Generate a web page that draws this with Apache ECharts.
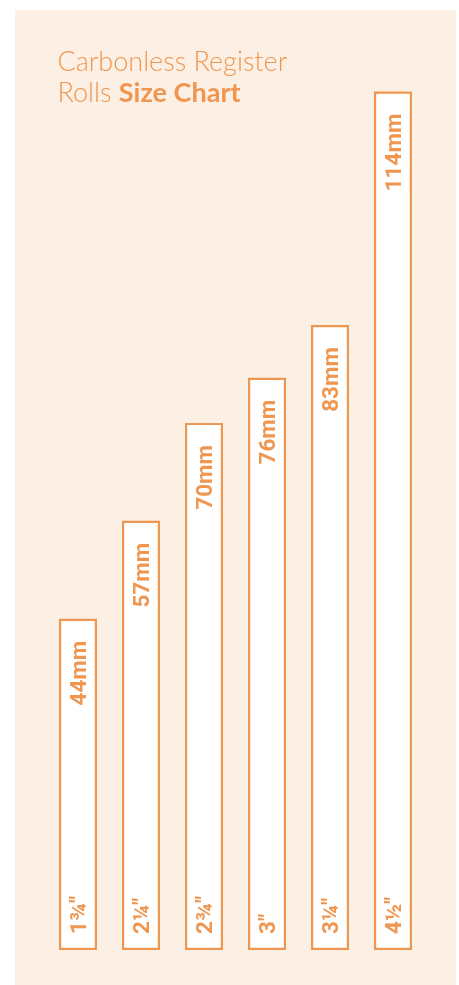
<!DOCTYPE html>
<html>
<head>
<meta charset="utf-8">
<script src="https://cdn.jsdelivr.net/npm/echarts@6/dist/echarts.min.js"></script>
<style>
html,body{margin:0;padding:0;background:#fff;}
#c{width:459px;height:985px;}
</style>
</head>
<body>
<div id="c"></div>
<script>
const sizes = ['1\u00BE\u2033', '2\u00BC\u2033', '2\u00BE\u2033', '3\u2033', '3\u00BC\u2033', '4\u00BD\u2033'];
const widthsMM = [44, 57, 70, 76, 83, 114];
const titleLine1 = 'Carbonless Register';
const titleLine2a = 'Rolls ';
const titleLine2b = 'Size Chart';

const ORANGE = '#EF9650';
const LABEL_FONT = 'Roboto, "Noto Sans", sans-serif';
const chart = echarts.init(document.getElementById('c'), null, {renderer: 'canvas'});
chart.setOption({
  backgroundColor: '#ffffff',
  animation: false,
  graphic: [{
    type: 'rect', z: -10, silent: true,
    shape: {x: 15, y: 10, width: 441, height: 975},
    style: {fill: '#FCEFE4'}
  }],
  title: {
    left: 57.5, top: 47, padding: 0,
    text: '{l|' + titleLine1 + '}\n{l|' + titleLine2a + '}{b|' + titleLine2b + '}',
    textStyle: {
      rich: {
        l: {fontFamily: 'Lato', fontWeight: 300, fontSize: 27, color: ORANGE, lineHeight: 31},
        b: {fontFamily: 'Lato', fontWeight: 700, fontSize: 27, color: ORANGE, lineHeight: 31}
      }
    }
  },
  grid: {left: 46.5, right: 34.5, top: 46.4, bottom: 35},
  xAxis: {
    type: 'category', data: sizes,
    axisLine: {show: false}, axisTick: {show: false}, axisLabel: {show: false}
  },
  yAxis: {
    type: 'value', min: 0, max: 120,
    show: false, splitLine: {show: false}
  },
  series: [{
    type: 'bar', data: widthsMM, barWidth: 38,
    itemStyle: {color: '#ffffff', borderColor: ORANGE, borderWidth: 2.2},
    label: {
      show: true, position: 'insideTop', distance: 22, rotate: 90,
      align: 'right', verticalAlign: 'middle', offset: [0, 2.5],
      formatter: p => p.value + 'mm',
      fontFamily: LABEL_FONT, fontWeight: 700, fontSize: 22.5, color: ORANGE
    }
  }, {
    type: 'bar', data: widthsMM, barWidth: 38, barGap: '-100%',
    itemStyle: {color: 'rgba(0,0,0,0)'},
    label: {
      show: true, position: 'insideBottom', distance: 16, rotate: 90,
      align: 'left', verticalAlign: 'middle', offset: [0, 2.5],
      formatter: p => p.name,
      fontFamily: LABEL_FONT, fontWeight: 700, fontSize: 22.5, color: ORANGE
    }
  }]
});
</script>
</body>
</html>
